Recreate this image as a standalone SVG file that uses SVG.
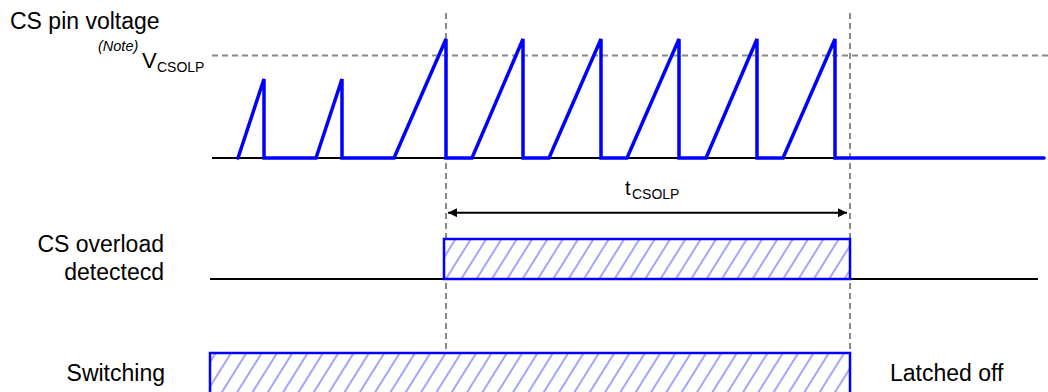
<svg xmlns="http://www.w3.org/2000/svg" width="1048" height="392" viewBox="0 0 1048 392">
<defs>
<style>
text{font-family:"Liberation Sans",Arial,sans-serif;fill:#000}
.lbl{font-size:23px}
.sub{font-size:14px}
.gdash{stroke:#888;stroke-width:2;stroke-dasharray:6,4;fill:none}
.base{stroke:#000;stroke-width:2;fill:none}
.wave{stroke:#0000ff;stroke-width:3.5;fill:none;stroke-linejoin:miter;stroke-linecap:round}
.box{stroke:#0000ff;stroke-width:2.5;fill:url(#hatch)}
.dim{stroke:#000;stroke-width:2;fill:none}
</style>
<pattern id="hatch" patternUnits="userSpaceOnUse" width="13" height="13" patternTransform="rotate(32)">
<rect width="13" height="13" fill="#fff"/>
<line x1="6" y1="0" x2="6" y2="13" stroke="#7474ff" stroke-width="1.3"/>
</pattern>
<marker id="ah" viewBox="0 0 10 10" refX="10" refY="5" markerWidth="9" markerHeight="9" markerUnits="userSpaceOnUse" orient="auto-start-reverse">
<path d="M0,0 L10,5 L0,10 Z" fill="#000"/>
</marker>
</defs>

<g id="guides">
<line class="gdash" x1="212" y1="55.5" x2="1048" y2="55.5"/>
<line class="gdash" x1="446" y1="13" x2="446" y2="392"/>
<line class="gdash" x1="850" y1="13" x2="850" y2="392"/>
</g>

<g id="cs-pin-voltage">
<text class="lbl" x="10" y="29">CS pin voltage</text>
<text x="98" y="51" font-size="14.5" font-style="italic">(Note)</text>
<text x="142" y="68" font-size="22">V</text>
<text class="sub" x="157" y="72">CSOLP</text>
<line class="base" x1="212" y1="158" x2="1044" y2="158"/>
<polyline class="wave" points="238,158 264,79 264,158 316,158 342,79 342,158 394,158 446,39 446,158 472,158 523,39 523,158 549,158 601,39 601,158 627,158 679,39 679,158 706,158 757,39 757,158 783,158 835,39 835,158 1044,158"/>
</g>

<g id="t-csolp">
<text x="625" y="195" font-size="20">t</text>
<text class="sub" x="632" y="199">CSOLP</text>
</g>

<g id="cs-overload">
<text class="lbl" x="164" y="252" text-anchor="end">CS overload</text>
<text class="lbl" x="164" y="280" text-anchor="end">detectecd</text>
<line class="base" x1="210" y1="279" x2="1038" y2="279"/>
<rect class="box" x="444" y="239" width="406" height="40"/>
</g>

<g id="switching">
<text class="lbl" x="165" y="381" text-anchor="end">Switching</text>
<rect class="box" x="210" y="353" width="640" height="45"/>
<text class="lbl" x="890" y="381">Latched off</text>
</g>

<g id="connectors">
<line class="dim" x1="448" y1="212.7" x2="847" y2="212.7" marker-start="url(#ah)" marker-end="url(#ah)"/>
</g>
</svg>
